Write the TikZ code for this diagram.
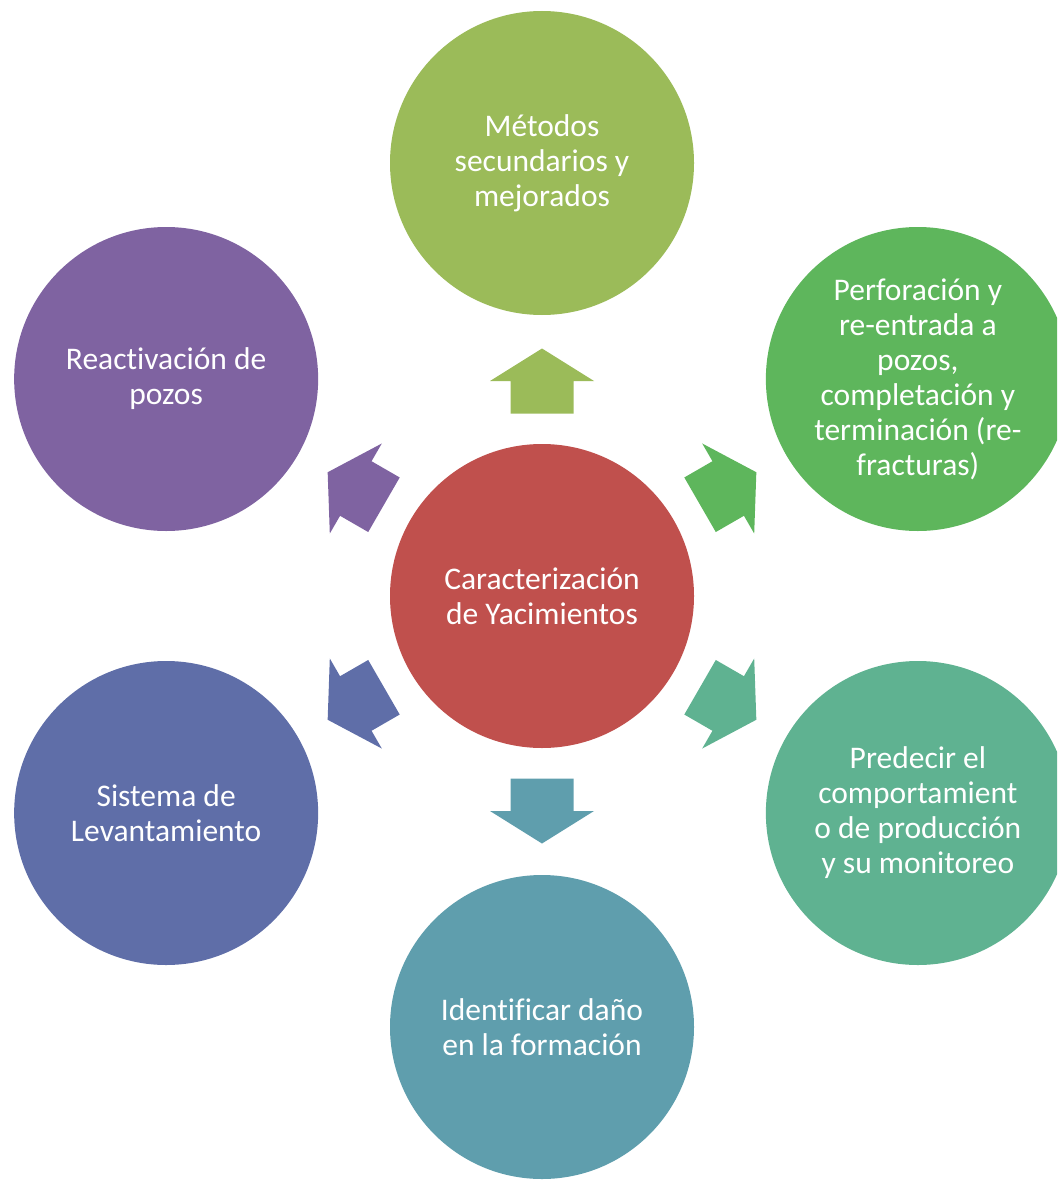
\documentclass[tikz,border=0pt]{standalone}
\usepackage{fontspec}
\setmainfont{Carlito}[Ligatures={NoCommon}]
\usetikzlibrary{calc}
\definecolor{cCenter}{HTML}{C0504D}
\definecolor{cTop}{HTML}{9BBB59}
\definecolor{cUR}{HTML}{5EB65C}
\definecolor{cLR}{HTML}{5FB291}
\definecolor{cBot}{HTML}{5F9EAD}
\definecolor{cLL}{HTML}{5F6EA8}
\definecolor{cUL}{HTML}{7F63A1}
\tikzset{
  bubble/.style={circle, minimum size=304pt, inner sep=0pt, text=white,
    align=center, font=\fontsize{31.5}{35}\selectfont},
  barrow/.pic={
    \fill[#1] (32.5pt,0pt) -- (0pt,52pt) -- (0pt,31.5pt) -- (-32.5pt,31.5pt)
      -- (-32.5pt,-31.5pt) -- (0pt,-31.5pt) -- (0pt,-52pt) -- cycle;
  }
}
\begin{document}
\begin{tikzpicture}[x=1pt,y=-1pt]
  \clip (0,0) rectangle (1057,1180);
  \coordinate (c0) at (542,596);
  % outer circles
  \node[bubble, fill=cTop] (top) at ($(c0)+(90:433pt)$) {Métodos\\secundarios y\\mejorados};
  \node[bubble, fill=cUR] (ur) at ($(c0)+(30:434pt)$) {Perforación y\\re-entrada a\\pozos,\\completación y\\terminación (re-\\fracturas)};
  \node[bubble, fill=cLR] (lr) at ($(c0)+(-30:434pt)$) {Predecir el\\comportamient\\o de producción\\y su monitoreo};
  \node[bubble, fill=cBot] (bot) at ($(c0)+(-90:431pt)$) {Identificar daño\\en la formación};
  \node[bubble, fill=cLL] (ll) at ($(c0)+(-150:434pt)$) {Sistema de\\Levantamiento};
  \node[bubble, fill=cUL] (ul) at ($(c0)+(150:434pt)$) {Reactivación de\\pozos};
  % center
  \node[bubble, fill=cCenter] (center) at (c0) {Caracterización\\de Yacimientos};
  % block arrows
  \pic[rotate=90] at ($(center.center)!215pt!(top.center)$) {barrow=cTop};
  \pic[rotate=30] at ($(center.center)!215pt!(ur.center)$) {barrow=cUR};
  \pic[rotate=-30] at ($(center.center)!215pt!(lr.center)$) {barrow=cLR};
  \pic[rotate=-90] at ($(center.center)!215pt!(bot.center)$) {barrow=cBot};
  \pic[rotate=-150] at ($(center.center)!215pt!(ll.center)$) {barrow=cLL};
  \pic[rotate=150] at ($(center.center)!215pt!(ul.center)$) {barrow=cUL};
\end{tikzpicture}
\end{document}
